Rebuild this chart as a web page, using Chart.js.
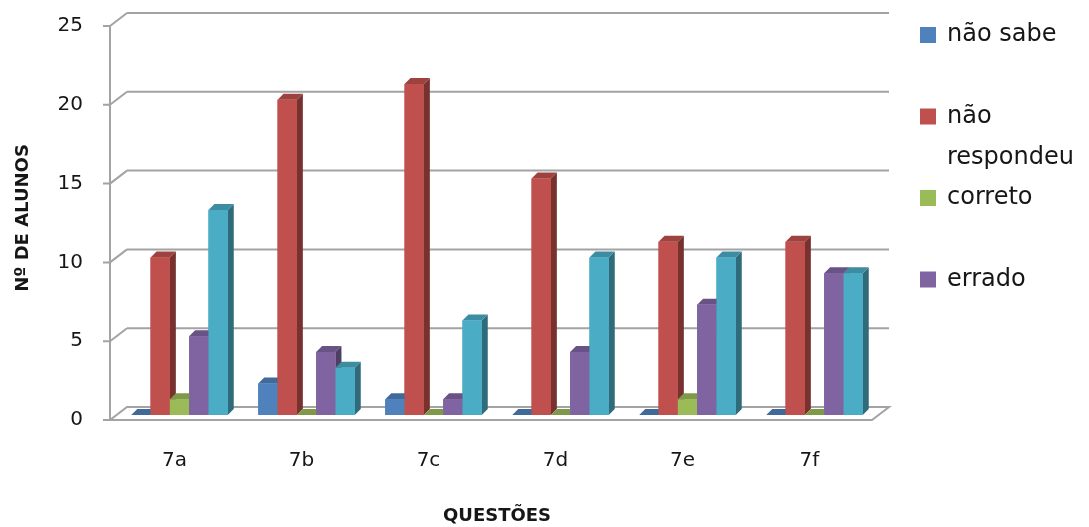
<!DOCTYPE html>
<html>
<head>
<meta charset="utf-8">
<script src="https://cdn.jsdelivr.net/npm/chart.js@4.4.1/dist/chart.umd.min.js"></script>
<style>
  html, body { margin: 0; padding: 0; background: #ffffff; }
  #wrap { width: 1089px; height: 527px; }
</style>
</head>
<body>
<div id="wrap"><canvas id="c" width="1089" height="527"></canvas></div>
<script>
// Respostas por questão
const questoes = ['7a', '7b', '7c', '7d', '7e', '7f'];
const naoSabe = [0, 2, 1, 0, 0, 0];
const naoRespondeu = [10, 20, 21, 15, 11, 11];
const correto = [1, 0, 0, 0, 1, 0];
const errado = [5, 4, 1, 4, 7, 9];
const quintaSerie = [13, 3, 6, 10, 10, 9];
const nomesSeries = ['não sabe', 'não respondeu', 'correto', 'errado', ''];
const coresSeries = ['#4F81BD', '#C0504D', '#9BBB59', '#8064A2', '#4BACC6'];
const yMax = 25;
const yPasso = 5;

const TEXT = '#161616';
const GRID = '#a3a3a3';
Chart.defaults.font.family = "'DejaVu Sans', Verdana, sans-serif";
Chart.defaults.color = TEXT;

function shade(hex, f) {
  const n = parseInt(hex.slice(1), 16);
  const r = Math.round(((n >> 16) & 255) * f);
  const g = Math.round(((n >> 8) & 255) * f);
  const b = Math.round((n & 255) * f);
  return `rgb(${r},${g},${b})`;
}

// Oblique depth of the bar bodies and of the wall/floor box
const BAR_DX = 6, BAR_DY = 6;
const FRONT_DX = -6, FRONT_DY = 5;   // front plane relative to bar plane
const WALL_DX = 17, WALL_DY = 13;    // back wall relative to front plane

const frame3d = {
  id: 'frame3d',
  beforeDatasetsDraw(chart) {
    const { ctx, chartArea: a, scales: { y } } = chart;
    const fx0 = a.left + FRONT_DX, fx1 = a.right + FRONT_DX;
    const bx0 = fx0 + WALL_DX, bx1 = fx1 + WALL_DX;
    const front = v => y.getPixelForValue(v) + FRONT_DY;
    const back = v => front(v) - WALL_DY;
    ctx.save();
    ctx.strokeStyle = GRID;
    ctx.lineWidth = 2;
    // floor
    ctx.beginPath();
    ctx.moveTo(fx0, front(0));
    ctx.lineTo(fx1, front(0));
    ctx.lineTo(bx1, back(0));
    ctx.lineTo(bx0, back(0));
    ctx.closePath();
    ctx.fillStyle = '#ffffff';
    ctx.fill();
    ctx.stroke();
    // back wall gridlines, side diagonals and tick marks
    for (let v = 0; v <= yMax; v += yPasso) {
      ctx.beginPath();
      if (v > 0) {
        ctx.moveTo(bx0, back(v));
        ctx.lineTo(bx1, back(v));
        ctx.moveTo(fx0, front(v));
        ctx.lineTo(bx0, back(v));
      }
      ctx.moveTo(fx0 - 7, front(v));
      ctx.lineTo(fx0, front(v));
      ctx.stroke();
    }
    // front vertical axis
    ctx.beginPath();
    ctx.moveTo(fx0, front(yMax));
    ctx.lineTo(fx0, front(0));
    ctx.stroke();
    ctx.restore();
  }
};

const bars3d = {
  id: 'bars3d',
  afterDatasetsDraw(chart) {
    const { ctx } = chart;
    const items = [];
    chart.data.datasets.forEach((ds, i) => {
      const meta = chart.getDatasetMeta(i);
      if (meta.hidden) return;
      meta.data.forEach(el => items.push({ el, color: ds.backgroundColor }));
    });
    items.sort((p, q) => p.el.x - q.el.x);
    ctx.save();
    for (const { el, color } of items) {
      const p = el.getProps(['x', 'y', 'base', 'width'], true);
      const L = p.x - p.width / 2, R = p.x + p.width / 2;
      const top = Math.min(p.y, p.base), base = Math.max(p.y, p.base);
      // right side face
      ctx.fillStyle = shade(color, 0.62);
      ctx.beginPath();
      ctx.moveTo(R, top);
      ctx.lineTo(R + BAR_DX, top - BAR_DY);
      ctx.lineTo(R + BAR_DX, base - BAR_DY);
      ctx.lineTo(R, base);
      ctx.closePath();
      ctx.fill();
      // top face
      ctx.fillStyle = shade(color, 0.82);
      ctx.beginPath();
      ctx.moveTo(L, top);
      ctx.lineTo(R, top);
      ctx.lineTo(R + BAR_DX, top - BAR_DY);
      ctx.lineTo(L + BAR_DX, top - BAR_DY);
      ctx.closePath();
      ctx.fill();
      // front face
      ctx.fillStyle = color;
      ctx.fillRect(L, top, R - L, base - top);
    }
    ctx.restore();
  }
};

const legendaLateral = {
  id: 'legendaLateral',
  afterDraw(chart) {
    const { ctx } = chart;
    const x0 = 920, textX = 947, maxW = 1089 - textX - 2;
    const y0 = 35, passo = 81.5, linha = 41, box = 16;
    ctx.save();
    ctx.font = "24px 'DejaVu Sans', Verdana, sans-serif";
    ctx.textBaseline = 'middle';
    ctx.textAlign = 'left';
    let idx = 0;
    chart.data.datasets.forEach(ds => {
      if (!ds.label) return;
      const cy = y0 + idx * passo;
      ctx.fillStyle = ds.backgroundColor;
      ctx.fillRect(x0, cy - box / 2, box, box);
      // word wrap
      const words = ds.label.split(' ');
      const lines = [];
      let cur = '';
      for (const w of words) {
        const t = cur ? cur + ' ' + w : w;
        if (cur && ctx.measureText(t).width > maxW) { lines.push(cur); cur = w; }
        else cur = t;
      }
      if (cur) lines.push(cur);
      ctx.fillStyle = TEXT;
      lines.forEach((ln, k) => ctx.fillText(ln, textX, cy + k * linha));
      idx++;
    });
    ctx.restore();
  }
};

new Chart(document.getElementById('c'), {
  type: 'bar',
  data: {
    labels: questoes,
    datasets: [naoSabe, naoRespondeu, correto, errado, quintaSerie].map((d, i) => ({
      label: nomesSeries[i],
      data: d,
      backgroundColor: coresSeries[i],
      borderWidth: 0,
      categoryPercentage: 0.76,
      barPercentage: 1.0
    }))
  },
  options: {
    responsive: false,
    animation: false,
    devicePixelRatio: 1,
    layout: { padding: { top: 21, right: 211, left: 0, bottom: 0 } },
    plugins: { legend: { display: false }, tooltip: { enabled: false } },
    scales: {
      x: {
        grid: { display: false, drawTicks: false },
        border: { display: false },
        ticks: { font: { size: 20 }, padding: 34, labelOffset: -5, color: TEXT },
        title: { display: true, text: 'QUESTÕES', font: { size: 18, weight: 'bold' }, padding: { top: 3, bottom: 0 }, color: TEXT },
        afterFit(s) { s.height = 112; s.paddingLeft = 0; s.paddingRight = 0; }
      },
      y: {
        min: 0,
        max: yMax,
        grid: { display: false, drawTicks: false },
        border: { display: false },
        ticks: { stepSize: yPasso, font: { size: 20 }, padding: 33, labelOffset: 5, color: TEXT },
        title: { display: true, text: 'Nº DE ALUNOS', font: { size: 18, weight: 'bold' }, padding: { top: 13, bottom: 0 }, color: TEXT },
        afterFit(s) { s.width = 116; s.paddingTop = 0; s.paddingBottom = 0; }
      }
    }
  },
  plugins: [frame3d, bars3d, legendaLateral]
});
</script>
</body>
</html>
